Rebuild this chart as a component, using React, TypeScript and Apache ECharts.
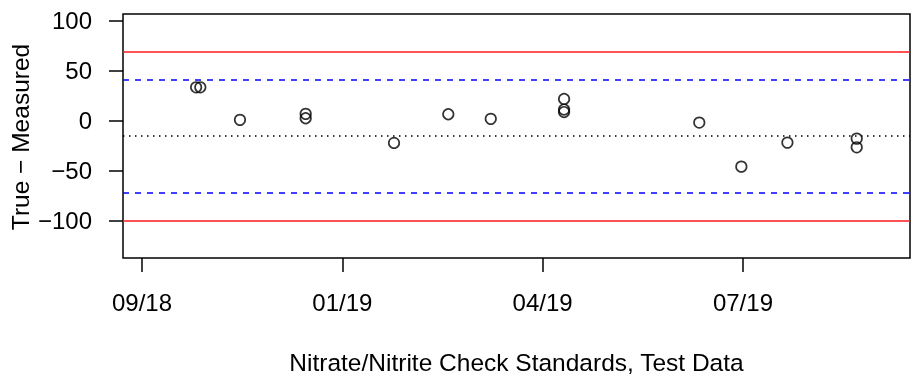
import React, { useEffect, useRef } from "react";
import * as echarts from "echarts";

// Days since the "09/18" tick
const pointDays = [27.0, 29.1, 48.9, 81.7, 81.7, 125.8, 152.9, 174.1, 210.7, 210.7, 210.7, 278.2, 299.2, 322.2, 356.8, 356.8];
const pointDiffs = [33.2, 33.2, 0.7, 6.7, 2.3, -22.3, 6.3, 1.7, 21.6, 11.0, 8.5, -2.0, -46.0, -22.0, -18.0, -26.7];

const xTickDays = [0, 100, 200, 300];
const xTickLabels = ["09/18", "01/19", "04/19", "07/19"];
const yTickValues = [-100, -50, 0, 50, 100];

const meanLine = -15.6;
const warningLines = [40.9, -71.8];
const controlLines = [68.8, -100];

const xTitle = "Nitrate/Nitrite Check Standards, Test Data";
const yTitle = "True \u2212 Measured";

const FONT = "'Liberation Sans', Arial, Helvetica, sans-serif";

export default function App() {
  const ref = useRef<HTMLDivElement>(null);
  useEffect(() => {
    if (!ref.current) return;
    const chart = echarts.init(ref.current, null, { renderer: "svg" });
    const fmtNum = (v: number) => (v < 0 ? "\u2212" + Math.abs(v) : String(v));
    const markData: any[] = [];
    controlLines.forEach((v) =>
      markData.push({ yAxis: v, lineStyle: { color: "#ff1a1a", width: 1.6, type: "solid" } })
    );
    warningLines.forEach((v) =>
      markData.push({ yAxis: v, lineStyle: { color: "#0000ff", width: 1.6, type: [6, 6] } })
    );
    markData.push({ yAxis: meanLine, lineStyle: { color: "#000", width: 1.6, type: [1.5, 4.5] } });

    chart.setOption({
      animation: false,
      textStyle: { fontFamily: FONT },
      grid: {
        left: 123,
        top: 14,
        right: 1,
        bottom: 119,
        show: true,
        borderColor: "#000",
        borderWidth: 1.5,
        backgroundColor: "transparent",
      },
      xAxis: {
        type: "value",
        min: -9.5,
        max: 383.4,
        splitLine: { show: false },
        axisLine: { show: false, onZero: false },
        axisTick: { show: true, length: 14, customValues: xTickDays, lineStyle: { color: "#000", width: 1.5 } },
        axisLabel: {
          customValues: xTickDays,
          margin: 32,
          fontSize: 24,
          color: "#000",
          fontFamily: FONT,
          formatter: (v: number) => {
            const i = xTickDays.indexOf(v);
            return i >= 0 ? xTickLabels[i] : "";
          },
        },
      },
      yAxis: {
        type: "value",
        min: -137.2,
        max: 106.4,
        splitLine: { show: false },
        axisLine: { show: false, onZero: false },
        axisTick: { show: true, length: 14, customValues: yTickValues, lineStyle: { color: "#000", width: 1.5 } },
        axisLabel: {
          customValues: yTickValues,
          margin: 31,
          fontSize: 24,
          color: "#000",
          fontFamily: FONT,
          formatter: (v: number) => fmtNum(v),
        },
      },
      graphic: [
        {
          type: "text",
          x: 516.5,
          y: 362.5,
          style: {
            text: xTitle,
            fontSize: 24.5,
            fontFamily: FONT,
            fill: "#000",
            textAlign: "center",
            textVerticalAlign: "middle",
          },
        },
        {
          type: "text",
          x: 20,
          y: 137,
          rotation: Math.PI / 2,
          style: {
            text: yTitle,
            fontSize: 24.5,
            fontFamily: FONT,
            fill: "#000",
            textAlign: "center",
            textVerticalAlign: "middle",
          },
        },
      ],
      series: [
        {
          type: "scatter",
          data: pointDays.map((d, i) => [d, pointDiffs[i]]),
          symbol: "circle",
          symbolSize: 10.5,
          itemStyle: { color: "transparent", borderColor: "#000", borderWidth: 1.7 },
          markLine: {
            silent: true,
            symbol: "none",
            label: { show: false },
            emphasis: { disabled: true },
            data: markData,
          },
          z: 3,
        },
      ],
    });
    return () => chart.dispose();
  }, []);
  return <div ref={ref} style={{ position: "fixed", left: 0, top: 0, width: 911, height: 377 }} />;
}
